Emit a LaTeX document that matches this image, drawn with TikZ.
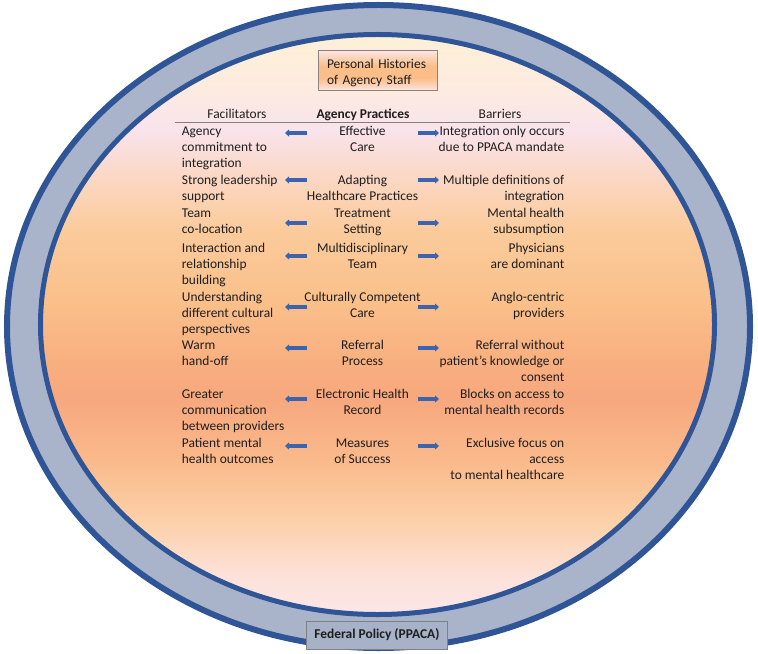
\documentclass[tikz,border=0pt]{standalone}
\usepackage{fontspec}
\setmainfont{Carlito}
\usetikzlibrary{arrows.meta}
\definecolor{ringblue}{HTML}{2F5597}
\definecolor{ringgray}{HTML}{A9B4CA}
\definecolor{arrowblue}{HTML}{3C64AE}
\definecolor{txt}{HTML}{1E1E1E}
\definecolor{linegray}{HTML}{808080}
\definecolor{boxgray}{HTML}{8C8282}
\definecolor{fedgray}{HTML}{A7B2C8}
\definecolor{tbTop}{HTML}{FDE6E6}
\definecolor{tbMid}{HTML}{FBBE88}
\definecolor{tbBot}{HTML}{FCE2DC}
\definecolor{sA}{HTML}{FEF0D6}
\definecolor{sB}{HTML}{FDEBE0}
\definecolor{sC}{HTML}{F9E3EC}
\definecolor{sD}{HTML}{FBD8C6}
\definecolor{sE}{HTML}{FBCB9C}
\definecolor{sF}{HTML}{FAC08A}
\definecolor{sG}{HTML}{F8AD7F}
\definecolor{sH}{HTML}{F7A87E}
\definecolor{sI}{HTML}{FAB98A}
\definecolor{sJ}{HTML}{FCD0A8}
\definecolor{sK}{HTML}{FDE2DC}
\definecolor{sL}{HTML}{FCE6E8}
\pgfdeclareverticalshading{innersh}{100bp}{color(0bp)=(sL); color(25bp)=(sL); color(28bp)=(sK); color(33.2bp)=(sJ); color(38.4bp)=(sI); color(43.5bp)=(sH); color(46.1bp)=(sG); color(52.1bp)=(sF); color(58.2bp)=(sE); color(62.9bp)=(sD); color(66.8bp)=(sC); color(70.2bp)=(sB); color(75bp)=(sA); color(100bp)=(sA)}
\pgfdeclareverticalshading{topboxsh}{100bp}{color(0bp)=(tbBot); color(25bp)=(tbBot); color(40bp)=(tbMid); color(55bp)=(tbMid); color(75bp)=(tbTop); color(100bp)=(tbTop)}
\begin{document}
\begin{tikzpicture}[x=1bp,y=-1bp,
  txtfont/.style={font=\fontsize{13.5}{16.3}\selectfont, text=txt, inner sep=0pt},
  lefttxt/.style={txtfont, anchor=north west, align=left},
  midtxt/.style={txtfont, anchor=north, align=center},
  righttxt/.style={txtfont, anchor=north east, align=right},
  arr/.style={draw=arrowblue, line width=3.4bp, -{Triangle[length=4bp,width=7bp]}},
  topbox/.style={draw=boxgray, line width=0.8bp, minimum width=119bp, minimum height=40bp,
    text width=101.6bp, align=left, inner xsep=8.7bp, inner ysep=0pt,
    shading=topboxsh,
    font=\fontsize{13.5}{16.3}\selectfont, text=txt},
  fedbox/.style={draw=linegray, line width=0.8bp, fill=fedgray, anchor=west, minimum height=28bp,
    inner xsep=8.3bp, inner ysep=0pt, font=\fontsize{13.5}{16.3}\selectfont\bfseries, text=txt}]
\useasboundingbox (0,0) rectangle (758,654);
% rings
\filldraw[fill=ringgray, draw=ringblue, line width=6bp] (378.5,326.5) ellipse [x radius=371.5bp, y radius=321.5bp];
\shadedraw[shading=innersh, draw=ringblue, line width=5bp] (377.5,324.5) ellipse [x radius=337bp, y radius=290bp];
% top box
\node[topbox] (hist) at (377.8,70) {\rule{0pt}{15pt}Personal Histories\\of Agency Staff};
% header
\node[midtxt] (fac) at (237,106.6) {\strut Facilitators};
\node[midtxt] (prac) at (363,106.6) {\strut\textbf{Agency Practices}};
\node[midtxt] (bar) at (500,106.6) {\strut Barriers};
\draw[draw=linegray, line width=0.8bp] (175,122) -- (570,122);
% row 1
\node[lefttxt] (f1) at (181.7,123.6) {\strut Agency\\commitment to\\integration};
\node[midtxt] (p1) at (362.5,123.6) {\strut Effective\\Care};
\node[righttxt] (b1) at (564.5,123.6) {\strut Integration only occurs\\due to PPACA mandate};
% row 2
\node[lefttxt] (f2) at (181.7,172.6) {\strut Strong leadership\\support};
\node[midtxt] (p2) at (362.5,172.6) {\strut Adapting\\Healthcare Practices};
\node[righttxt] (b2) at (564.5,172.6) {\strut Multiple definitions of\\integration};
% row 3
\node[lefttxt] (f3) at (181.7,205.6) {\strut Team\\co-location};
\node[midtxt] (p3) at (362.5,205.6) {\strut Treatment\\Setting};
\node[righttxt] (b3) at (564.5,205.6) {\strut Mental health\\subsumption};
% row 4
\node[lefttxt] (f4) at (181.7,240.6) {\strut Interaction and\\relationship\\building};
\node[midtxt] (p4) at (362.5,240.6) {\strut Multidisciplinary\\Team};
\node[righttxt] (b4) at (564.5,240.6) {\strut Physicians\\are dominant};
% row 5
\node[lefttxt] (f5) at (181.7,289.6) {\strut Understanding\\different cultural\\perspectives};
\node[midtxt] (p5) at (362.5,289.6) {\strut Culturally Competent\\Care};
\node[righttxt] (b5) at (564.5,289.6) {\strut Anglo-centric\\providers};
% row 6
\node[lefttxt] (f6) at (181.7,337.6) {\strut Warm\\hand-off};
\node[midtxt] (p6) at (362.5,337.6) {\strut Referral\\Process};
\node[righttxt] (b6) at (564.5,337.6) {\strut Referral without\\patient’s knowledge or\\consent};
% row 7
\node[lefttxt] (f7) at (181.7,386.6) {\strut Greater\\communication\\between providers};
\node[midtxt] (p7) at (362.5,386.6) {\strut Electronic Health\\Record};
\node[righttxt] (b7) at (564.5,386.6) {\strut Blocks on access to\\mental health records};
% row 8
\node[lefttxt] (f8) at (181.7,435.6) {\strut Patient mental\\health outcomes};
\node[midtxt] (p8) at (362.5,435.6) {\strut Measures\\of Success};
\node[righttxt] (b8) at (564.5,435.6) {\strut Exclusive focus on\\access\\to mental healthcare};
% arrows
\foreach \i/\y in {1/133,2/180,3/223,4/256,5/307,6/348,7/399,8/446}{
  \coordinate (ls\i) at (307,\y);
  \coordinate (le\i) at (285,\y);
  \coordinate (rs\i) at (418,\y);
  \coordinate (re\i) at (439,\y);
  \draw[arr] (ls\i) -- (le\i);
  \draw[arr] (rs\i) -- (re\i);
}
% bottom box
\node[fedbox] (fed) at (305.7,635) {Federal Policy (PPACA)};
\end{tikzpicture}
\end{document}
